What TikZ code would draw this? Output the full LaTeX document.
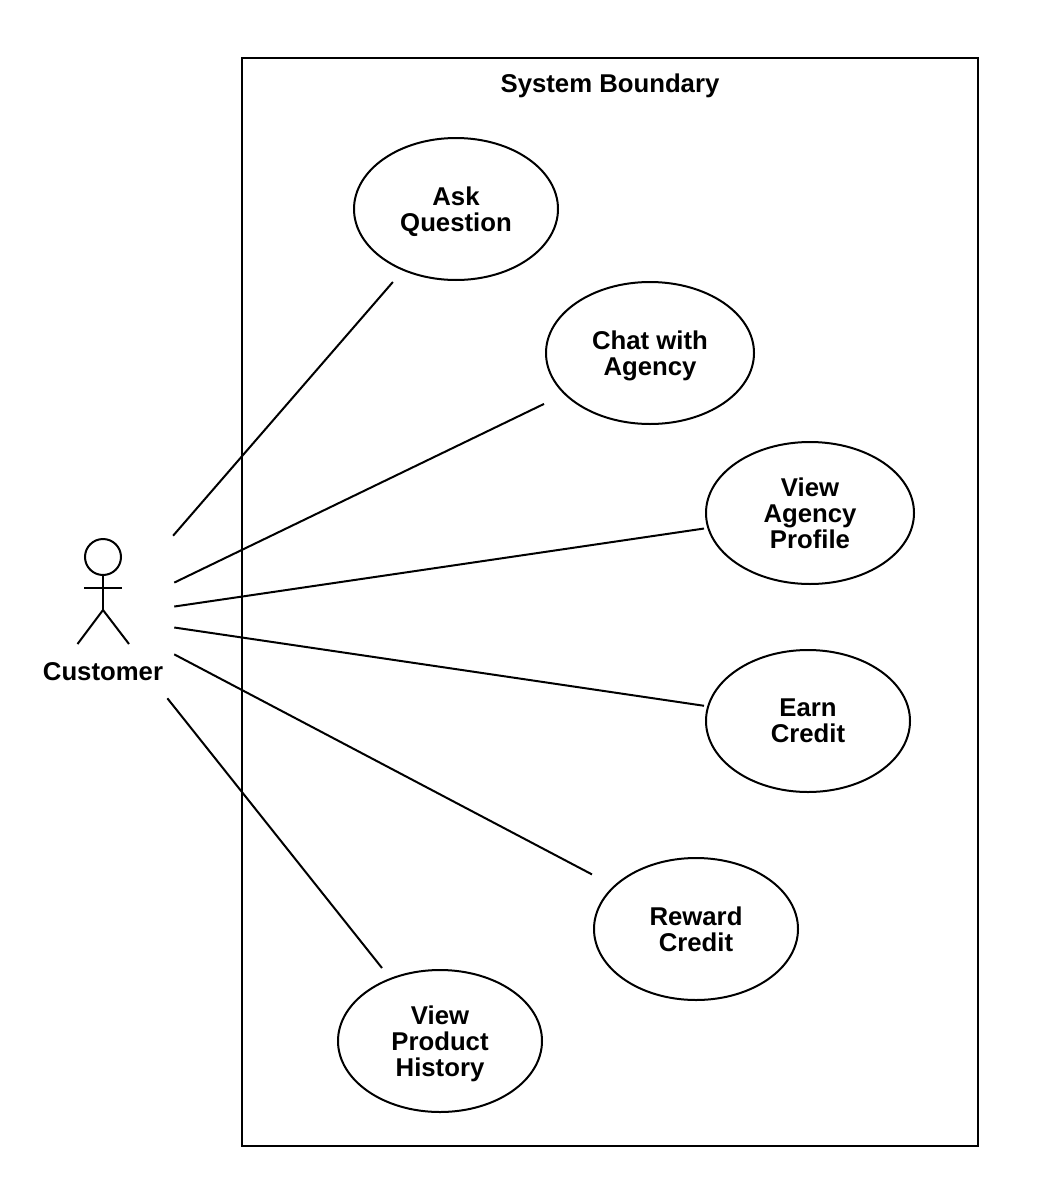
\documentclass[tikz,border=0pt]{standalone}
\usepackage{fontspec}
\setmainfont{Liberation Sans}
\tikzset{
    umlline/.style={line width=1.5pt},
    umltext/.style={font=\fontsize{19.3}{19.5}\selectfont\bfseries, align=center, inner sep=0pt},
    usecase/.style={umltext, text depth=0pt, minimum width=153pt, minimum height=106.5pt, outer sep=1.5pt},
    widecase/.style={usecase, minimum width=156pt},
}

\begin{document}
\begin{tikzpicture}[x=0.75pt, y=-0.75pt]
    \useasboundingbox (0,0) rectangle (1044,1188);
    \node[draw, umlline, minimum width=552pt, minimum height=816pt, inner sep=0pt] (boundary) at (610,602) {};
    \node[umltext] (title) at (610,86) {System Boundary};

    % actor
    \coordinate (head) at (103,557);
    \coordinate (neck) at (103,575);
    \coordinate (hip) at (103,610);
    \coordinate (handL) at (84,587.5);
    \coordinate (handR) at (122,587.5);
    \coordinate (footL) at (77.5,644);
    \coordinate (footR) at (129,644);
    \draw[umlline] (head) circle [radius=13.5pt];
    \draw[umlline] (neck) -- (hip);
    \draw[umlline] (handL) -- (handR);
    \draw[umlline] (footL) -- (hip) -- (footR);
    \node[umltext] (customerlabel) at (103,672) {Customer};
    \node[minimum width=106.5pt, minimum height=121.5pt, inner sep=0pt] (customer) at (103,617) {};

    % use cases
    \node[usecase] (ask) at (456,209) {Ask\\Question};
    \node[widecase] (chat) at (650,353) {Chat with\\Agency};
    \node[widecase] (profile) at (810,513) {View\\Agency\\Profile};
    \node[usecase] (earn) at (808,721) {Earn\\Credit};
    \node[usecase] (reward) at (696,929) {Reward\\Credit};
    \node[usecase] (history) at (440,1041) {View\\Product\\History};
    \draw[umlline] (ask.center) ellipse [x radius=76.5pt, y radius=53.25pt];
    \draw[umlline] (chat.center) ellipse [x radius=78pt, y radius=53.25pt];
    \draw[umlline] (profile.center) ellipse [x radius=78pt, y radius=53.25pt];
    \draw[umlline] (earn.center) ellipse [x radius=76.5pt, y radius=53.25pt];
    \draw[umlline] (reward.center) ellipse [x radius=76.5pt, y radius=53.25pt];
    \draw[umlline] (history.center) ellipse [x radius=76.5pt, y radius=53.25pt];

    \draw[umlline] (customer) -- (ask);
    \draw[umlline] (customer) -- (chat);
    \draw[umlline] (customer) -- (profile);
    \draw[umlline] (customer) -- (earn);
    \draw[umlline] (customer) -- (reward);
    \draw[umlline] (customer) -- (history);
\end{tikzpicture}
\end{document}
